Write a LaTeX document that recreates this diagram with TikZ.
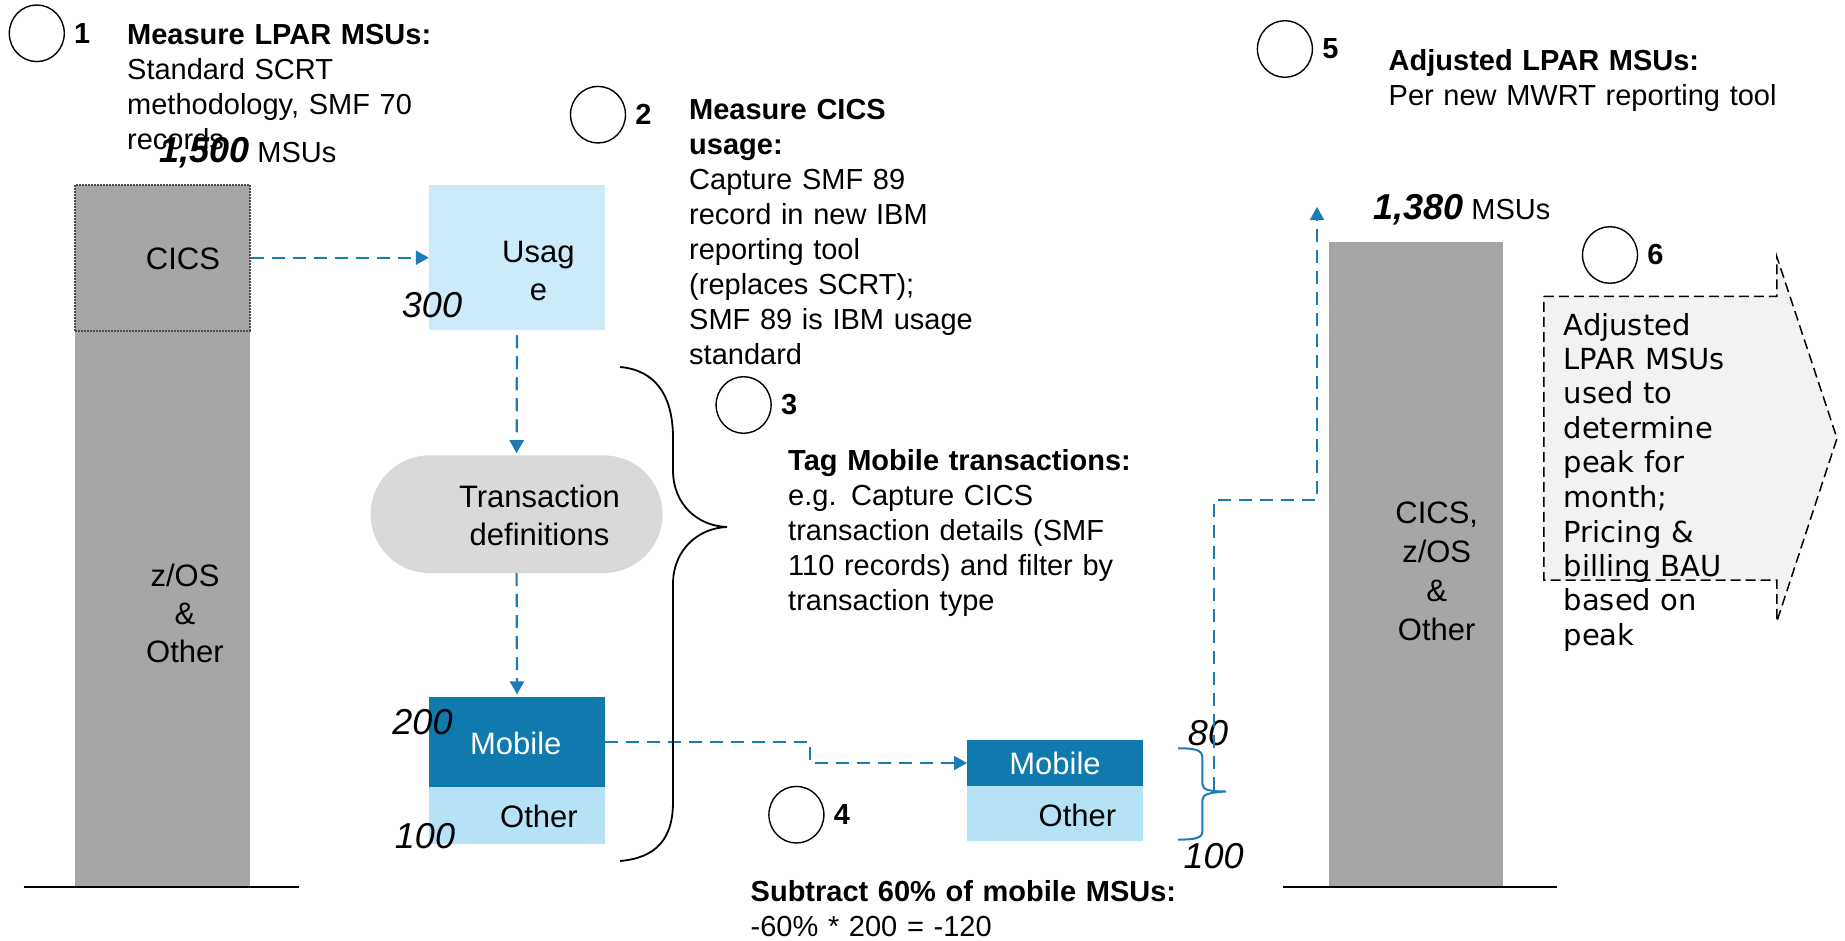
\documentclass[tikz,border=0pt]{standalone}
\usepackage{fontspec}
\setmainfont{Liberation Sans}
\newfontfamily\dejavu{DejaVu Sans}
\usetikzlibrary{positioning}
\usetikzlibrary{arrows.meta,shapes}
\usetikzlibrary{calc}
\definecolor{flowblue}{HTML}{1A7BB5}
\definecolor{mobileblue}{HTML}{107AAF}
\definecolor{usageblue}{HTML}{CCEBF8}
\definecolor{otherblue}{HTML}{B6E2F7}
\definecolor{bargray}{HTML}{A6A6A6}
\definecolor{transgray}{HTML}{D9D9D9}
\definecolor{notegray}{HTML}{F2F2F2}
\tikzstyle{bar}=[rectangle,fill=bargray,draw=none,minimum width=174.2pt,inner sep=0pt]
\tikzstyle{block}=[rectangle,draw=none,minimum width=176pt,inner sep=0pt]
\tikzstyle{stepcircle}=[ellipse,draw=black,line width=1.4pt,minimum width=55pt,minimum height=56.6pt,inner sep=0pt]
\tikzstyle{stepno}=[font=\fontsize{29}{35}\selectfont\bfseries,inner sep=0pt]
\tikzstyle{note}=[font=\fontsize{29}{35}\selectfont,align=left,text width=520pt,inner sep=0pt,anchor=base west]
\tikzstyle{total}=[font=\fontsize{29}{35}\selectfont,inner sep=0pt,anchor=base west]
\tikzstyle{boxtext}=[font=\fontsize{31}{38}\selectfont,align=center,inner sep=0pt,anchor=base]
\tikzstyle{amount}=[font=\fontsize{36}{36}\selectfont\itshape,inner sep=0pt,anchor=base]
\tikzstyle{flow}=[draw=flowblue,line width=2.2pt,dash pattern=on 13pt off 8pt,-{Triangle[length=13pt,width=14pt]}]
\tikzstyle{notearrow}=[fill=notegray,draw=black,line width=1.5pt,dash pattern=on 10pt off 5pt]

\begin{document}
\begin{tikzpicture}[x=1pt,y=-1pt]
    \useasboundingbox (0,0) rectangle (1845,941);
    % First the bars and boxes
    \node[bar,minimum height=557pt] (zos) at (162.4,609.5) {};
    \node[bar,minimum height=146pt,draw=black!70,line width=2pt,dash pattern=on 2pt off 1pt] (cics) at (162.4,257.7) {};
    \node[block,fill=usageblue,minimum height=145.5pt] (usage) at (517,257.3) {};
    \node[block,fill=transgray,minimum width=292pt,minimum height=117.6pt,rounded corners=58.8pt] (trans) at (516.6,514.2) {};
    \node[block,fill=mobileblue,minimum height=90.6pt] (mob1) at (517,741.9) {};
    \node[block,fill=otherblue,minimum height=56.5pt] (oth1) at (517,815.5) {};
    \node[block,fill=mobileblue,minimum width=175.4pt,minimum height=46pt] (mob2) at (1054.9,763) {};
    \node[block,fill=otherblue,minimum width=175.4pt,minimum height=55.3pt] (oth2) at (1054.9,813.7) {};
    \node[bar,minimum height=645.6pt] (adj) at (1415.6,565.2) {};

    % base lines
    \draw[line width=2.5pt] (23.5,887.2) -- (298.9,887.2);
    \draw[line width=2.5pt] (1282.6,887.2) -- (1556.8,887.2);

    % labels inside the boxes (base = last line)
    \node[boxtext] (cicslbl) at (183,270) {CICS};
    \node[boxtext] (zoslbl) at (185,662) {z/OS\\\&\\Other};
    \node[boxtext] (usagelbl) at (538.4,301) {Usag\\e};
    \node[boxtext] (translbl) at (539.5,545.5) {Transaction\\definitions};
    \node[boxtext,text=white] (mob1lbl) at (515.8,754.6) {Mobile};
    \node[boxtext] (oth1lbl) at (539,827.3) {Other};
    \node[boxtext,text=white] (mob2lbl) at (1055,774.8) {Mobile};
    \node[boxtext] (oth2lbl) at (1077.5,826.3) {Other};
    \node[boxtext,font=\fontsize{31}{39}\selectfont] (adjlbl) at (1436.7,640) {CICS,\\z/OS\\\&\\Other};

    % MSU amounts
    \node[amount] (n300) at (432,318) {300};
    \node[amount] (n200) at (422.5,734) {200};
    \node[amount] (n100) at (425,848) {100};
    \node[amount] (n80) at (1208,745) {80};
    \node[amount] (n100b) at (1213.6,868) {100};
    \node[total] (tot1) at (159,163) {{\fontsize{36}{36}\selectfont\bfseries\itshape 1,500} MSUs};
    \node[total] (tot2) at (1373,220) {{\fontsize{36}{36}\selectfont\bfseries\itshape 1,380} MSUs};

    % Connect the boxes with dashed arrows
    \draw[flow] (cics.east) -- (cics.east -| usage.west);
    \draw[flow,shorten <=5pt,shorten >=2pt] (usage.south) -- (trans.north);
    \draw[flow,shorten >=2pt] (trans.south) -- (mob1.north);
    \draw[flow] (mob1.east) -- ++(204.5,0) |- (mob2.west);

    % braces
    \draw[line width=1.8pt] (620,367) .. controls (655,370) and (673,395) .. (673,438) -- (673,470)
        .. controls (673,505) and (698,526) .. (727,527) .. controls (698,528) and (673,550) .. (673,584)
        -- (673,802) .. controls (673,840) and (655,858) .. (620,861);
    \draw[flowblue,line width=2pt] (1178,748.3) .. controls (1196,748.3) and (1202.4,750) .. (1202.4,758)
        -- (1202.4,784) .. controls (1202.4,790) and (1210,791.5) .. (1226,791.5)
        .. controls (1210,792.5) and (1202.4,794) .. (1202.4,800) -- (1202.4,831)
        .. controls (1202.4,838) and (1196,839.6) .. (1178,839.6);
    \coordinate (adjfrom) at (1214,790);
    \coordinate (adjto) at (1317,207);
    \draw[flow] (adjfrom) -- ++(0,-290) -| (adjto);

    % step 6 arrow
    \draw[notearrow] (1543.8,296.5) -- (1776.8,296.5) -- (1776.8,256.7) -- (1837,438.3)
        -- (1776.8,621.7) -- (1776.8,580.1) -- (1543.8,580.1) -- cycle;

    % numbered steps
    \foreach \pos/\name/\num in {{(36.8,33.3)/c1/1}, {(598,114.7)/c2/2}, {(743.6,405)/c3/3},
        {(796.4,814.7)/c4/4}, {(1284.9,49)/c5/5}, {(1610,255)/c6/6}}
    {
        \node[stepcircle] (\name) at \pos {};
        \node[stepno,right=9pt of \name] (num\num) {\num};
    }

    % step texts
    \node[note] (note1) at (127,45) {\textbf{Measure LPAR MSUs:}\\Standard SCRT\\methodology, SMF 70\\records};
    \node[note] (note2) at (689,120) {\textbf{Measure CICS}\\\textbf{usage:}\\Capture SMF 89\\record in new IBM\\reporting tool\\(replaces SCRT);\\SMF 89 is IBM usage\\standard};
    \node[note] (note3) at (788,470) {\textbf{Tag Mobile transactions:}\\e.g. Capture CICS\\transaction details (SMF\\110 records) and filter by\\transaction type};
    \node[note] (note4) at (750.5,901) {\textbf{Subtract 60\% of mobile MSUs:}\\-60\% * 200 = -120};
    \node[note] (note5) at (1388.5,70.7) {\textbf{Adjusted LPAR MSUs:}\\Per new MWRT reporting tool};
    \node[note,font=\dejavu\fontsize{29}{34.5}\selectfont] (note6) at (1563.5,335) {Adjusted\\LPAR MSUs\\used to\\determine\\peak for\\month;\\Pricing \&\\billing BAU\\based on\\peak};
\end{tikzpicture}
\end{document}
